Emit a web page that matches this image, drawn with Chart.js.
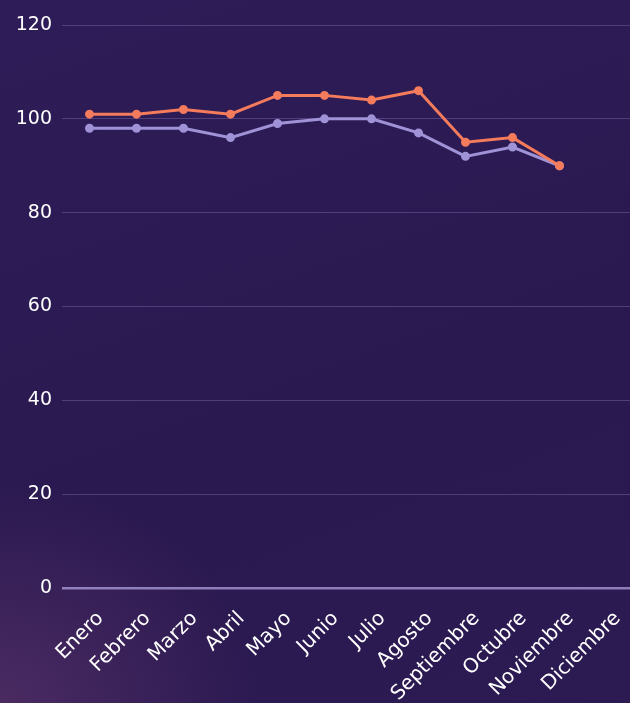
<!DOCTYPE html>
<html lang="es">
<head>
<meta charset="UTF-8">
<title>Meses</title>
<style>
    html, body {
        margin: 0;
        padding: 0;
        width: 630px;
        height: 703px;
        overflow: hidden;
    }
    body {
        background: radial-gradient(ellipse 260px 220px at 0% 100%, #4a2b62 0%, rgba(74,43,98,0) 100%),
                    linear-gradient(160deg, #2e1c58 0%, #2a1950 60%, #2c1a52 100%);
    }
    canvas {
        display: block;
    }
</style>
</head>
<body>
<canvas id="chart" width="630" height="703"></canvas>
<script src="https://cdn.jsdelivr.net/npm/chart.js"></script>
<script>
    // datos del gráfico
    const meses = ["Enero", "Febrero", "Marzo", "Abril", "Mayo", "Junio", "Julio", "Agosto", "Septiembre", "Octubre", "Noviembre", "Diciembre"];
    const serieNaranja = [101, 101, 102, 101, 105, 105, 104, 106, 95, 96, 90, null];
    const serieMorada = [98, 98, 98, 96, 99, 100, 100, 97, 92, 94, 90, null];
    const ticksY = [0, 20, 40, 60, 80, 100, 120];

    const fuente = "'DejaVu Sans', sans-serif";

    new Chart(document.getElementById("chart").getContext("2d"), {
        type: "line",
        data: {
            labels: meses,
            datasets: [{
                label: "Serie 1",
                data: serieNaranja,
                borderColor: "#f47b5c",
                backgroundColor: "#f47b5c",
                borderWidth: 3,
                pointRadius: 3,
                pointHoverRadius: 4,
                tension: 0
            }, {
                label: "Serie 2",
                data: serieMorada,
                borderColor: "#9f92d6",
                backgroundColor: "#9f92d6",
                borderWidth: 3,
                pointRadius: 3,
                pointHoverRadius: 4,
                tension: 0
            }]
        },
        options: {
            responsive: false,
            animation: false,
            layout: {
                autoPadding: false,
                padding: { top: 25, right: 0, left: 0, bottom: 0 }
            },
            plugins: {
                legend: { display: false },
                tooltip: { enabled: false }
            },
            scales: {
                x: {
                    offset: true,
                    grid: { display: false },
                    border: { display: false },
                    afterFit: axis => {
                        axis.height = 115;
                        axis.paddingLeft = 0;
                        axis.paddingRight = 0;
                    },
                    ticks: {
                        color: "#ffffff",
                        font: { family: fuente, size: 20 },
                        minRotation: 45,
                        maxRotation: 45,
                        autoSkip: false,
                        labelOffset: 11,
                        padding: 11
                    }
                },
                y: {
                    min: 0,
                    max: 120,
                    afterBuildTicks: axis => {
                        axis.ticks = ticksY.map(v => ({ value: v }));
                    },
                    afterFit: axis => {
                        axis.width = 66;
                        axis.paddingTop = 0;
                        axis.paddingBottom = 0;
                    },
                    border: { display: false },
                    grid: {
                        color: ctx => ctx.tick && ctx.tick.value === 0 ? "rgba(175,160,220,0.75)" : "rgba(170,150,220,0.3)",
                        lineWidth: ctx => ctx.tick && ctx.tick.value === 0 ? 2.5 : 1,
                        drawTicks: true,
                        tickLength: 4
                    },
                    ticks: {
                        color: "#ffffff",
                        font: { family: fuente, size: 19 },
                        padding: 10
                    }
                }
            }
        }
    });
</script>
</body>
</html>
